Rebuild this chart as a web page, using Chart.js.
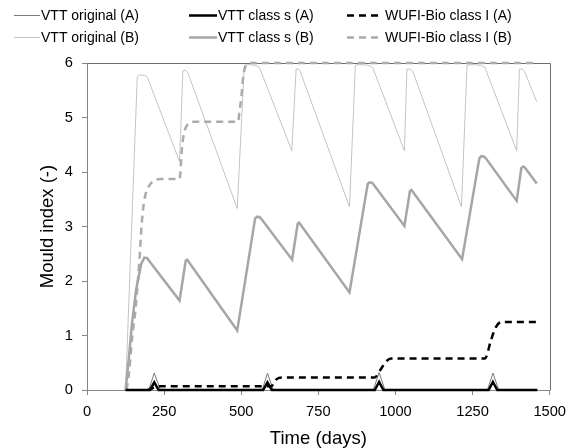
<!DOCTYPE html>
<html><head><meta charset="utf-8">
<script src="https://cdn.jsdelivr.net/npm/chart.js@4/dist/chart.umd.min.js"></script>
<style>html,body{margin:0;padding:0;background:#fff;}canvas{display:block;}</style>
</head><body>
<canvas id="c" width="574" height="448"></canvas>
<script>
// ---- data ----
const seriesLabels = ["VTT original (A)", "VTT original (B)", "VTT class s (A)", "VTT class s (B)", "WUFI-Bio class I (A)", "WUFI-Bio class I (B)"];

const origA_days = [125, 200, 218, 238, 568, 585, 604, 928, 947, 966, 1298, 1316, 1335, 1460];
const origA_vals = [0, 0, 0.31, 0, 0, 0.31, 0, 0, 0.32, 0, 0, 0.31, 0, 0];

const origB_days = [125, 163, 168, 190, 197, 300, 311, 318, 327, 487, 510, 520, 545, 559, 664, 678, 685, 691, 851, 870, 880, 910, 926, 1029, 1037, 1046, 1056, 1214, 1232, 1245, 1275, 1290, 1393, 1402, 1410, 1418, 1458];
const origB_vals = [0, 5.75, 5.78, 5.77, 5.72, 4.19, 5.86, 5.87, 5.82, 3.33, 5.96, 5.97, 5.96, 5.92, 4.39, 5.89, 5.89, 5.85, 3.36, 5.96, 5.97, 5.96, 5.92, 4.39, 5.89, 5.89, 5.85, 3.36, 5.96, 5.97, 5.96, 5.92, 4.39, 5.89, 5.89, 5.85, 5.29];

const classA_days = [125, 204, 218, 232, 571, 585, 599, 933, 947, 961, 1302, 1316, 1330, 1460];
const classA_vals = [0, 0, 0.14, 0, 0, 0.14, 0, 0, 0.15, 0, 0, 0.15, 0, 0];

const classB_days = [125, 135, 146, 159, 176, 186, 195, 200, 300, 320, 325, 487, 545, 552, 560, 565, 665, 683, 688, 851, 910, 916, 925, 929, 1029, 1047, 1052, 1216, 1272, 1278, 1288, 1293, 1393, 1408, 1414, 1420, 1458];
const classB_vals = [0, 0.55, 1.23, 1.83, 2.32, 2.43, 2.42, 2.38, 1.64, 2.37, 2.39, 1.09, 3.15, 3.18, 3.17, 3.14, 2.39, 3.05, 3.07, 1.79, 3.78, 3.81, 3.80, 3.77, 3.01, 3.65, 3.67, 2.40, 4.25, 4.29, 4.28, 4.25, 3.47, 4.07, 4.10, 4.08, 3.79];

const wufiA_days = [196, 205, 215, 232, 597, 605, 615, 632, 932, 950, 969, 986, 1290, 1310, 1326, 1345, 1460];
const wufiA_vals = [0, 0.01, 0.04, 0.07, 0.07, 0.12, 0.20, 0.23, 0.23, 0.36, 0.52, 0.58, 0.58, 0.92, 1.16, 1.25, 1.25];

const wufiB_days = [128, 136, 147, 157, 170, 178, 186, 203, 240, 300, 303, 306, 310, 316, 325, 343, 490, 494, 500, 507, 515, 528, 1460];
const wufiB_vals = [0, 0.3, 1.0, 1.47, 2.39, 3.09, 3.49, 3.76, 3.87, 3.87, 4.0, 4.3, 4.55, 4.75, 4.86, 4.92, 4.92, 5.1, 5.35, 5.78, 5.95, 6.0, 6.0];

const xTickStep = 250, xMin = 0, xMax = 1500;
const yTickStep = 1, yMin = 0, yMax = 6;

// ---- build ----
const pts = (d, v) => d.map((x, i) => ({x: x, y: v[i]}));
const FONT = "'Liberation Sans', Arial, sans-serif";

const datasets = [
  {label: seriesLabels[0], data: pts(origA_days, origA_vals), borderColor: '#7a7a7a', borderWidth: 1, order: 1},
  {label: seriesLabels[1], data: pts(origB_days, origB_vals), borderColor: '#c4c4c4', borderWidth: 1, order: 3},
  {label: seriesLabels[2], data: pts(classA_days, classA_vals), borderColor: '#000000', borderWidth: 2.5, order: 0},
  {label: seriesLabels[3], data: pts(classB_days, classB_vals), borderColor: '#a6a6a6', borderWidth: 2.5, order: 2},
  {label: seriesLabels[4], data: pts(wufiA_days, wufiA_vals), borderColor: '#000000', borderWidth: 2.5, borderDash: [7, 5], cubicInterpolationMode: 'monotone', order: 0},
  {label: seriesLabels[5], data: pts(wufiB_days, wufiB_vals), borderColor: '#ababab', borderWidth: 2.5, borderDash: [7, 5], cubicInterpolationMode: 'monotone', order: 2}
];
datasets.forEach(d => { d.pointRadius = 0; d.fill = false; d.tension = 0; d.clip = 6; });

// custom legend, 3 columns x 2 rows
const legendCols = [{x0: 14, x1: 40, tx: 41}, {x0: 189, x1: 217, tx: 218}, {x0: 347, x1: 381, tx: 385}];
const legendRows = [15, 37];
const legendPlugin = {
  id: 'gridLegend',
  afterDraw(chart) {
    const ctx = chart.ctx;
    ctx.save();
    chart.data.datasets.forEach((ds, i) => {
      const c = legendCols[Math.floor(i / 2)], y = legendRows[i % 2];
      ctx.strokeStyle = ds.borderColor;
      ctx.lineWidth = ds.borderWidth;
      ctx.setLineDash(ds.borderDash || []);
      ctx.beginPath(); ctx.moveTo(c.x0, y + 0.5); ctx.lineTo(c.x1, y + 0.5); ctx.stroke();
      ctx.setLineDash([]);
      ctx.fillStyle = '#000';
      ctx.font = '14px ' + FONT;
      ctx.textBaseline = 'middle';
      ctx.textAlign = 'left';
      ctx.fillText(ds.label, c.tx, y + 1);
    });
    ctx.restore();
  }
};
const boxPlugin = {
  id: 'box',
  beforeDatasetsDraw(chart) {
    const {ctx, chartArea: a} = chart;
    ctx.save();
    ctx.strokeStyle = '#6e6e6e';
    ctx.lineWidth = 1;
    ctx.beginPath();
    ctx.moveTo(Math.round(a.left) + 0.5, Math.round(a.top) + 0.5);
    ctx.lineTo(Math.round(a.right) + 0.5, Math.round(a.top) + 0.5);
    ctx.lineTo(Math.round(a.right) + 0.5, Math.round(a.bottom) + 0.5);
    ctx.stroke();
    ctx.restore();
  }
};

new Chart(document.getElementById('c'), {
  type: 'line',
  data: {datasets: datasets},
  options: {
    responsive: false,
    animation: false,
    devicePixelRatio: 1,
    layout: {padding: {left: 0, right: 24, top: 63, bottom: 0}},
    plugins: {legend: {display: false}, tooltip: {enabled: false}},
    scales: {
      x: {
        type: 'linear', min: xMin, max: xMax,
        ticks: {stepSize: xTickStep, color: '#000', font: {family: FONT, size: 14.67}, padding: 8, maxRotation: 0,
                callback: v => String(v)},
        grid: {drawOnChartArea: false, drawTicks: true, tickLength: 5, tickColor: '#868686'},
        border: {color: '#868686'},
        title: {display: true, text: 'Time (days)', color: '#000', font: {family: FONT, size: 18.5}, padding: {top: 0, bottom: -2}},
        afterFit(s) { s.height = 58; }
      },
      y: {
        type: 'linear', min: yMin, max: yMax,
        ticks: {stepSize: yTickStep, color: '#000', font: {family: FONT, size: 14.67}, padding: 9,
                callback: v => String(v)},
        grid: {drawOnChartArea: false, drawTicks: true, tickLength: 5, tickColor: '#868686'},
        border: {color: '#868686'},
        title: {display: true, text: 'Mould index (-)', color: '#000', font: {family: FONT, size: 18.5}, padding: {top: 37, bottom: 0}},
        afterFit(s) { s.width = 87; }
      }
    }
  },
  plugins: [legendPlugin, boxPlugin]
});
</script>
</body></html>
